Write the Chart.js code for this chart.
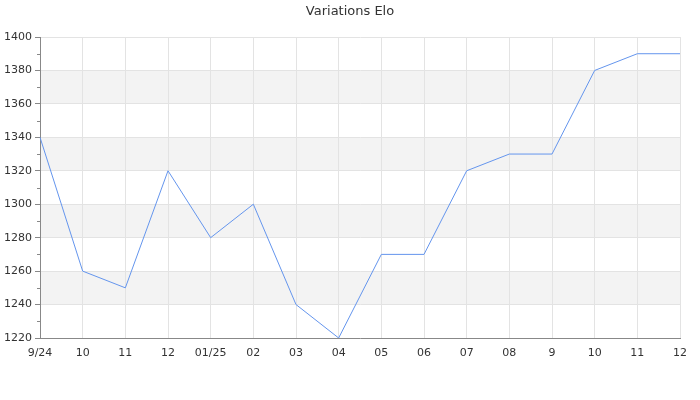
<!DOCTYPE html>
<html>
<head>
<meta charset="utf-8">
<script src="https://cdn.jsdelivr.net/npm/chart.js@4"></script>
<style>
  html, body { margin: 0; padding: 0; background: #fff; }
  #wrap { width: 700px; height: 400px; }
</style>
</head>
<body>
<div id="wrap"><canvas id="elo"></canvas></div>
<script>
const months = ['9/24', '10', '11', '12', '01/25', '02', '03', '04', '05', '06', '07', '08', '9', '10', '11', '12'];
const elo = [1340, 1260, 1250, 1320, 1280, 1300, 1240, 1220, 1270, 1270, 1320, 1330, 1330, 1380, 1390, 1390];
const yTicks = { min: 1220, max: 1400, step: 20 };
const bands = [[1360, 1380], [1320, 1340], [1280, 1300], [1240, 1260]];

const FONT = 'DejaVu Sans';

// grey stripes behind the plot + small minor ticks on the y axis
const decor = {
  id: 'decor',
  beforeDraw(chart) {
    const { ctx, chartArea: a, scales: { y } } = chart;
    ctx.save();
    ctx.fillStyle = '#f3f3f3';
    bands.forEach(([lo, hi]) => {
      const top = y.getPixelForValue(hi);
      const bot = y.getPixelForValue(lo);
      ctx.fillRect(a.left, top, a.right - a.left, bot - top);
    });
    ctx.restore();
  },
  afterDraw(chart) {
    const { ctx, chartArea: a, scales: { y } } = chart;
    ctx.save();
    ctx.strokeStyle = '#888';
    ctx.lineWidth = 1;
    for (let v = yTicks.min + yTicks.step / 2; v < yTicks.max; v += yTicks.step) {
      const py = Math.round(y.getPixelForValue(v)) + 0.5;
      ctx.beginPath();
      ctx.moveTo(a.left - 3, py);
      ctx.lineTo(a.left, py);
      ctx.stroke();
    }
    ctx.fillStyle = '#333';
    ctx.font = '13px "' + FONT + '"';
    ctx.textAlign = 'center';
    ctx.textBaseline = 'middle';
    ctx.fillText('Variations Elo', 350, 12);
    ctx.restore();
  }
};

new Chart(document.getElementById('elo'), {
  type: 'line',
  data: {
    labels: months,
    datasets: [{
      label: 'Elo',
      data: elo,
      borderColor: '#6495ed',
      borderWidth: 1,
      pointRadius: 0,
      tension: 0,
      fill: false,
    }],
  },
  options: {
    responsive: true,
    maintainAspectRatio: false,
    animation: false,
    layout: { padding: { top: 37, right: 20, left: 0, bottom: 0 } },
    plugins: {
      legend: { display: false },
      title: { display: false },
      tooltip: { enabled: false },
    },
    scales: {
      x: {
        offset: false,
        grid: { color: '#e3e3e3', drawTicks: false },
        border: { color: '#888' },
        ticks: {
          color: '#333',
          font: { family: FONT, size: 11 },
          padding: 9,
          maxRotation: 0,
          autoSkip: false,
        },
        afterFit(scale) { scale.height = 62; },
      },
      y: {
        min: yTicks.min,
        max: yTicks.max,
        grid: { color: '#e3e3e3', tickColor: '#888', tickLength: 5 },
        border: { color: '#888' },
        ticks: {
          stepSize: yTicks.step,
          color: '#333',
          font: { family: FONT, size: 11 },
          padding: 3,
          callback: v => String(v),
        },
        afterFit(scale) { scale.width = 40; },
      },
    },
  },
  plugins: [decor],
});
</script>
</body>
</html>
